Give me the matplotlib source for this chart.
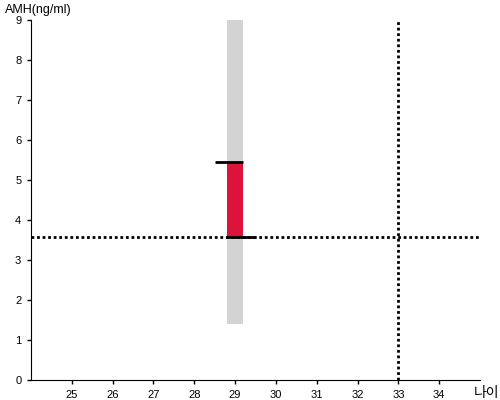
import matplotlib.pyplot as plt
import numpy as np

plt.rcParams['font.family'] = ['Liberation Sans', 'Noto Sans CJK KR', 'DejaVu Sans']

# datos
edad = 29
rango_bajo, rango_alto = 1.4, 9.0
amh_bajo, amh_alto = 3.58, 5.45
linea_amh = 3.58
linea_edad = 33
x_ticks = [25, 26, 27, 28, 29, 30, 31, 32, 33, 34]
y_ticks = [0, 1, 2, 3, 4, 5, 6, 7, 8, 9]

fig = plt.figure(figsize=(5, 4), dpi=100)
ax = fig.add_axes([0.062, 0.05, 0.898, 0.9])

ancho = 0.39
ax.bar(edad, rango_alto - rango_bajo, bottom=rango_bajo, width=ancho, color='#d3d3d3', zorder=1)
ax.bar(edad, amh_alto - amh_bajo, bottom=amh_bajo, width=ancho, color='#dc143c', zorder=2)
ax.hlines(amh_alto, edad - 0.49, edad + ancho / 2, color='black', lw=2, zorder=4)
ax.hlines(amh_bajo, edad - ancho / 2, edad + 0.5, color='black', lw=2, zorder=4)

ax.axhline(linea_amh, color='black', lw=2, linestyle=(0, (1, 1)), zorder=3)
ax.vlines(linea_edad, 0, 9, color='black', lw=2, linestyle=(0, (1, 1)), zorder=3)

ax.set_xlim(24, 35)
ax.set_ylim(0, 9)
ax.set_xticks(x_ticks)
ax.set_yticks(y_ticks)
ax.tick_params(labelsize=8, length=3, width=1, pad=4)
ax.spines['top'].set_visible(False)
ax.spines['right'].set_visible(False)

fig.text(0.01, 0.975, 'AMH(ng/ml)', fontsize=9, va='center', ha='left')
fig.text(0.998, 0.0, '나이', fontsize=10, va='bottom', ha='right')

plt.savefig('out.png', dpi=100)
